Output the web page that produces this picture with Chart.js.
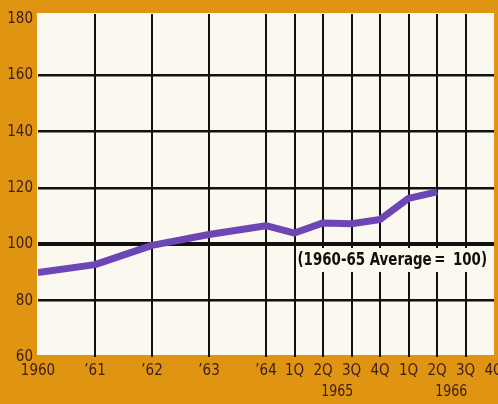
<!DOCTYPE html>
<html>
<head>
<meta charset="utf-8">
<script src="https://cdn.jsdelivr.net/npm/chart.js@4/dist/chart.umd.min.js"></script>
<style>
  html, body { margin: 0; padding: 0; background: #df9412; }
  #wrap { width: 498px; height: 404px; }
</style>
</head>
<body>
<div id="wrap"><canvas id="chart" width="498" height="404"></canvas></div>
<script>
// positions on the time axis: years one unit apart, 1965-66 by quarter
const xPositions = [0, 1, 2, 3, 4, 4.5, 5, 5.5, 6, 6.5, 7, 7.5, 8];
const xLabels = ['1960', '\u201961', '\u201962', '\u201963', '\u201964',
  '1Q', '2Q', '3Q', '4Q', '1Q', '2Q', '3Q', '4Q'];
const indexValues = [90, 92.8, 99.6, 103.5, 106.6, 104, 107.6, 107.3, 108.8, 116.3, 118.6];
const yTicks = [60, 80, 100, 120, 140, 160, 180];
const groupLabels = ['1965', '1966'];
const groupCenters = [5.25, 7.25];
const noteText = '(1960-65 Average\u2009=\u2009 100)';
const noteValue = 94.8;

const INK = '#3c1d10';
const FONT = "'Liberation Sans Narrow', 'DejaVu Sans Condensed', sans-serif";
const PAPER = '#fbf8ef';

const points = indexValues.map((v, i) => ({ x: xPositions[i], y: v }));

// draws text squeezed horizontally so it fits a given width
function narrowText(ctx, text, x, y, maxWidth) {
  const w = ctx.measureText(text).width;
  const sx = Math.min(1, maxWidth / w);
  ctx.save();
  ctx.translate(x, y);
  ctx.scale(sx, 1);
  ctx.fillText(text, 0, 0);
  ctx.restore();
  return w * sx;
}

const paperPlugin = {
  id: 'paper',
  beforeDraw(chart) {
    const { ctx, chartArea } = chart;
    ctx.save();
    ctx.fillStyle = '#df9412';
    ctx.fillRect(0, 0, chart.width, chart.height);
    ctx.fillStyle = PAPER;
    ctx.fillRect(chartArea.left - 1, chartArea.top - 1, chartArea.right - chartArea.left + 1, chartArea.bottom - chartArea.top - 1);
    ctx.restore();
  },
  beforeDatasetsDraw(chart) {
    const { ctx, scales } = chart;
    const x = scales.x, y = scales.y;
    ctx.save();
    // base note, boxed out of the grid between the first quarter line and the edge
    const right = x.right - 7;
    const left = x.getPixelForValue(4.5) + 3;
    const cy = y.getPixelForValue(noteValue);
    ctx.fillStyle = PAPER;
    ctx.fillRect(left - 1, cy - 11, right - left + 6, 24);
    ctx.font = 'bold 18px ' + FONT;
    ctx.textBaseline = 'middle';
    ctx.textAlign = 'left';
    ctx.fillStyle = '#141008';
    narrowText(ctx, noteText, left, cy + 1, right - left);
    // year labels under the quarters
    ctx.font = '16px ' + FONT;
    ctx.textAlign = 'center';
    ctx.fillStyle = INK;
    groupLabels.forEach((lab, i) => {
      narrowText(ctx, lab, x.getPixelForValue(groupCenters[i]), 392, 32);
    });
    ctx.restore();
  }
};

new Chart(document.getElementById('chart'), {
  type: 'line',
  data: {
    datasets: [
      {
        data: points,
        borderColor: '#6c46b4',
        borderWidth: 7,
        pointRadius: 0,
        tension: 0,
        borderJoinStyle: 'round',
        borderCapStyle: 'butt'
      },
      {
        data: points,
        borderColor: '#8d60dc',
        borderWidth: 4.5,
        pointRadius: 0,
        tension: 0,
        borderJoinStyle: 'round',
        borderCapStyle: 'butt'
      }
    ]
  },
  options: {
    responsive: false,
    animation: false,
    layout: { padding: { top: 10, right: 4, left: 0, bottom: 0 } },
    plugins: {
      legend: { display: false },
      tooltip: { enabled: false }
    },
    scales: {
      x: {
        type: 'linear',
        min: 0,
        max: 8,
        afterFit(scale) {
          scale.height = 47;
          scale.paddingLeft = 0;
          scale.paddingRight = 0;
        },
        afterBuildTicks(scale) { scale.ticks = xPositions.map(v => ({ value: v })); },
        border: { display: false },
        grid: {
          drawTicks: false,
          lineWidth: 2,
          color: (c) => (c.tick && (c.tick.value === 0 || c.tick.value === 8)) ? 'rgba(0,0,0,0)' : '#111'
        },
        ticks: {
          autoSkip: false,
          maxRotation: 0,
          padding: 5,
          color: INK,
          font: { family: FONT, size: 15 },
          callback: (v) => xLabels[xPositions.indexOf(v)]
        }
      },
      y: {
        min: 60,
        max: 181.75,
        afterFit(scale) { scale.width = 38; },
        afterBuildTicks(scale) { scale.ticks = yTicks.map(v => ({ value: v })); },
        border: { display: false },
        grid: {
          drawTicks: false,
          lineWidth: (c) => (c.tick && c.tick.value === 100) ? 4 : 2.5,
          color: (c) => (c.tick && (c.tick.value === 60 || c.tick.value === 180)) ? 'rgba(0,0,0,0)' : '#111'
        },
        ticks: {
          padding: 5,
          color: INK,
          font: { family: FONT, size: 15 }
        }
      }
    }
  },
  plugins: [paperPlugin]
});
</script>
</body>
</html>
